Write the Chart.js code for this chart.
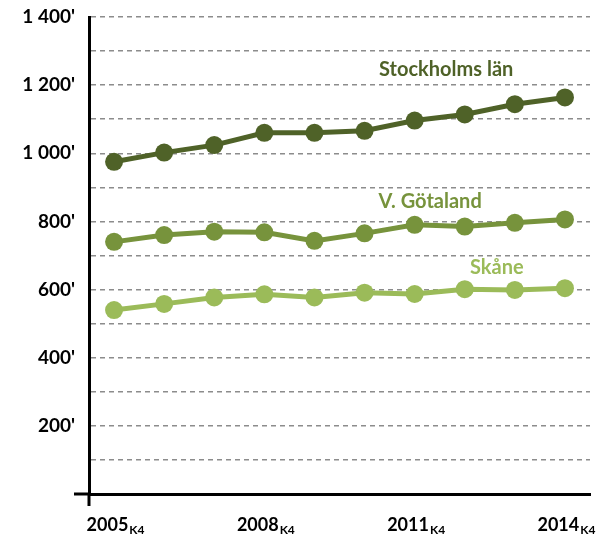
<!DOCTYPE html>
<html>
<head>
<meta charset="utf-8">
<script src="https://cdn.jsdelivr.net/npm/chart.js@4/dist/chart.umd.min.js"></script>
<style>
  html, body { margin: 0; padding: 0; background: #fff; }
  #wrap { width: 606px; height: 538px; }
</style>
</head>
<body>
<div id="wrap"><canvas id="chart" width="606" height="538"></canvas></div>
<script>
// data
const years = ["2005", "2006", "2007", "2008", "2009", "2010", "2011", "2012", "2013", "2014"];
const shownYears = ["2005", "2008", "2011", "2014"];
const quarter = "K4";
const stockholm = [975, 1002, 1024, 1060, 1060, 1066, 1096, 1114, 1144, 1164];
const gotaland = [740, 760, 770, 768, 743, 765, 790, 785, 796, 806];
const skane = [540, 558, 577, 586, 577, 591, 587, 601, 599, 604];
const seriesNames = ["Stockholms län", "V. Götaland", "Skåne"];
const colors = ["#4f6228", "#77933c", "#9bbb59"];

const FONT = "Lato, 'Open Sans', sans-serif";

function fmt(v) {
  // 1400 -> "1 400'"
  const s = String(v);
  return (s.length > 3 ? s.slice(0, -3) + " " + s.slice(-3) : s) + "'";
}

// series names anchored in data coordinates (index, value at baseline)
const labelSpots = [[6.63, 1228], [6.31, 839], [7.64, 646]];

const extras = {
  id: "extras",
  afterDraw(chart) {
    const ctx = chart.ctx;
    const x = chart.scales.x, y = chart.scales.y;
    const area = chart.chartArea;
    ctx.save();
    // small tick stubs at the origin
    ctx.strokeStyle = "#000";
    ctx.lineWidth = 3;
    ctx.beginPath();
    ctx.moveTo(area.left - 15, area.bottom);
    ctx.lineTo(area.left, area.bottom);
    ctx.moveTo(area.left, area.bottom);
    ctx.lineTo(area.left, area.bottom + 12);
    ctx.stroke();

    // x labels with subscript K4
    ctx.fillStyle = "#000";
    ctx.textBaseline = "alphabetic";
    ctx.textAlign = "left";
    years.forEach((yr, i) => {
      if (!shownYears.includes(yr)) return;
      ctx.font = "bold 18px " + FONT;
      const w1 = ctx.measureText(yr).width;
      ctx.font = "bold 12px " + FONT;
      const w2 = ctx.measureText(quarter).width;
      const cx = x.getPixelForValue(i);
      const left = cx - (w1 + w2) / 2 + 1;
      ctx.font = "bold 18px " + FONT;
      ctx.fillText(yr, left, 531);
      ctx.font = "bold 12px " + FONT;
      ctx.fillText(quarter, left + w1 + 1, 534);
    });

    // series names
    ctx.font = "bold 20px " + FONT;
    ctx.textAlign = "center";
    ctx.textBaseline = "alphabetic";
    seriesNames.forEach((name, i) => {
      ctx.fillStyle = colors[i];
      ctx.fillText(name, x.getPixelForValue(labelSpots[i][0]), y.getPixelForValue(labelSpots[i][1]));
    });
    ctx.restore();
  }
};

function ds(label, data, color) {
  return {
    label: label,
    data: data,
    borderColor: color,
    backgroundColor: color,
    borderWidth: 5,
    pointRadius: 9,
    pointBorderWidth: 0,
    tension: 0
  };
}

new Chart(document.getElementById("chart"), {
  type: "line",
  data: {
    labels: years,
    datasets: [
      ds(seriesNames[0], stockholm, colors[0]),
      ds(seriesNames[1], gotaland, colors[1]),
      ds(seriesNames[2], skane, colors[2])
    ]
  },
  options: {
    responsive: false,
    animation: false,
    layout: { padding: { top: 17, right: 16, left: 0, bottom: 0 } },
    plugins: { legend: { display: false }, tooltip: { enabled: false } },
    scales: {
      x: {
        offset: true,
        grid: { display: false, drawTicks: false },
        border: { display: true, color: "#000", width: 3 },
        ticks: { display: false },
        afterFit(s) { s.height = 44; }
      },
      y: {
        min: 0,
        max: 1400,
        afterFit(s) { s.width = 89; s.paddingTop = 0; s.paddingBottom = 0; },
        ticks: {
          stepSize: 100,
          padding: 14,
          color: "#000",
          font: { family: FONT, size: 19, weight: "bold" },
          callback: v => (v > 0 && v % 200 === 0) ? fmt(v) : ""
        },
        grid: {
          drawTicks: false,
          lineWidth: 1.5,
          color: c => c.tick.value === 0 ? "rgba(0,0,0,0)" : "#8c8c8c"
        },
        border: { display: true, color: "#000", width: 3, dash: [5, 4] }
      }
    }
  },
  plugins: [extras]
});
</script>
</body>
</html>
